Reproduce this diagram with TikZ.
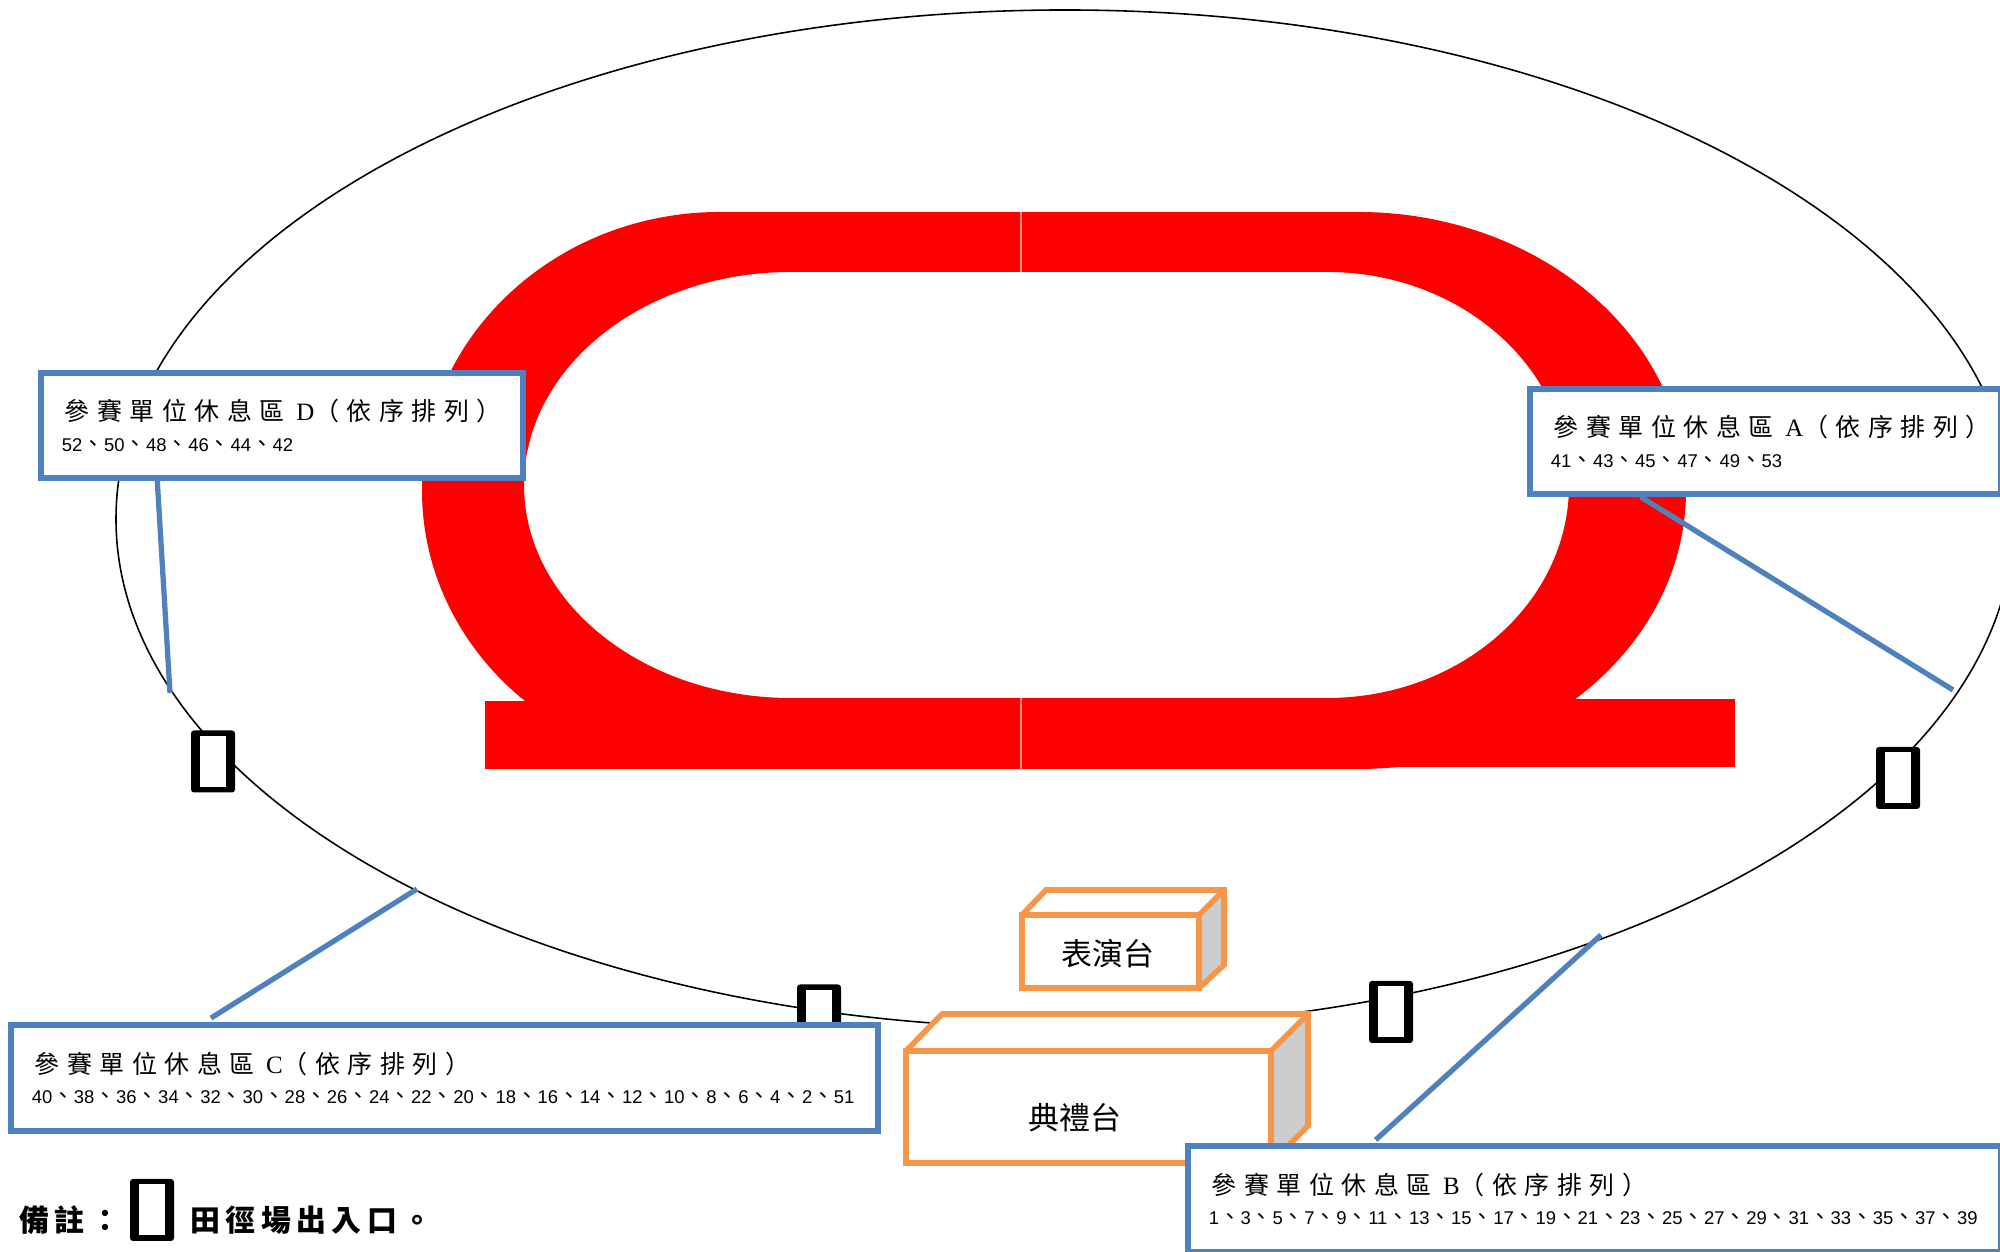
\documentclass[tikz,border=0pt]{standalone}
\usepackage{fontspec}
\setmainfont{Liberation Serif}
\newfontfamily\cjk{Noto Sans CJK TC}
\newfontfamily\numfont{Liberation Sans}
\usepackage{tikz}

\definecolor{boxblue}{HTML}{4F81BD}
\definecolor{stageorange}{HTML}{F79646}
\definecolor{sidegray}{HTML}{CCCCCC}

\newcommand{\dun}{{\cjk\fontsize{6.15pt}{8pt}\selectfont 、}}
\newcommand{\restTitle}[1]{\mbox{\fontsize{7.1pt}{8.8pt}\selectfont\cjk\addfontfeature{LetterSpace=30}參賽單位休息區 {\rmfamily #1}（依序排列）}}
\newcommand{\restNums}[1]{\mbox{\hspace*{-.03cm}\fontsize{5.25pt}{8.8pt}\selectfont\numfont #1}}

\tikzset{
    restbox/.style={draw=boxblue, line width=1.7pt, fill=white, inner xsep=.24cm, inner ysep=0pt,
        minimum height=1.05cm, align=left},
    pointer/.style={draw=boxblue, line width=1.5pt},
    stageline/.style={draw=stageorange, line width=1.6pt, line join=miter},
    stagelabel/.style={font=\cjk\fontsize{8.8pt}{10pt}\selectfont, inner sep=0pt},
    notelabel/.style={font=\cjk\bfseries\fontsize{8.5pt}{10pt}\selectfont\addfontfeature{LetterSpace=18}, inner sep=0pt, anchor=west}
}

\begin{document}
\begin{tikzpicture}[x=.01cm, y=.01cm]

    % Page, one unit is one pixel of the reference
    \clip (0,0) rectangle (2000,1252);
    \useasboundingbox (0,0) rectangle (2000,1252);

    % Field outline
    \draw[line width=.45pt] (1065,733) ellipse [x radius=949, y radius=509];

    % Red track
    \fill[red, even odd rule]
        (720,1040) arc [start angle=90, end angle=270, x radius=298, y radius=278.5]
        -- (1358,483) arc [start angle=-90, end angle=90, x radius=328, y radius=278.5] -- cycle
        (791,980) arc [start angle=90, end angle=270, x radius=267, y radius=213]
        -- (1327,554) arc [start angle=-90, end angle=90, x radius=242, y radius=213] -- cycle;
    \fill[red] (485,483) rectangle (1021,551);
    \fill[red] (1021,485) rectangle (1735,553);
    \foreach \ya/\yb in {980/1040, 483/554} {
        \draw[red!45, line width=.3pt] (1021,\ya) -- (1021,\yb);
    }

    % Gates
    \foreach \gx/\gy in {213/490.5, 1898/474, 1391/240, 819/236.5, 152/42} {
        \fill[black, rounded corners=.03cm] ({\gx-22},{\gy-31}) rectangle ({\gx+22},{\gy+31});
        \fill[white] ({\gx-13},{\gy-25.5}) rectangle ({\gx+13},{\gy+25.5});
    }

    % Small stage
    \fill[sidegray] (1199,337) -- (1224,362) -- (1224,287) -- (1199,264) -- cycle;
    \draw[stageline] (1022,264) rectangle (1199,337);
    \draw[stageline] (1022,337) -- (1046,362) -- (1224,362) -- (1224,287) -- (1199,264);
    \draw[stageline] (1199,337) -- (1224,362);
    \node[stagelabel] (showStage) at (1108,298) {表演台};

    % Big stage
    \fill[white] (906,201) -- (942,238) -- (1308,238) -- (1271,201) -- cycle;
    \fill[sidegray] (1271,201) -- (1308,238) -- (1308,126) -- (1271,89) -- cycle;
    \draw[stageline] (906,89) rectangle (1271,201);
    \draw[stageline] (906,201) -- (942,238) -- (1308,238) -- (1308,126) -- (1271,89);
    \draw[stageline] (1271,201) -- (1308,238);
    \node[stagelabel] (mainStage) at (1075,134) {典禮台};

    % Rest areas
    \node[restbox, text width=4.34cm] (boxD) at (282,826.5)
        {\restTitle{D}\\[-3.3pt]\restNums{52\dun50\dun48\dun46\dun44\dun42}};
    \node[restbox, text width=4.23cm] (boxA) at (1765.5,810.5)
        {\restTitle{A}\\[-3.3pt]\restNums{41\dun43\dun45\dun47\dun49\dun53}};
    \node[restbox, text width=8.19cm] (boxC) at (444.5,174)
        {\restTitle{C}\\[-3.3pt]\restNums{40\dun38\dun36\dun34\dun32\dun30\dun28\dun26\dun24\dun22\dun20\dun18\dun16\dun14\dun12\dun10\dun8\dun6\dun4\dun2\dun51}};
    \node[restbox, text width=7.65cm] (boxB) at (1594.5,53)
        {\restTitle{B}\\[-3.3pt]\restNums{1\dun3\dun5\dun7\dun9\dun11\dun13\dun15\dun17\dun19\dun21\dun23\dun25\dun27\dun29\dun31\dun33\dun35\dun37\dun39}};

    % Pointers to the field
    \coordinate (tickD) at (170,559);
    \coordinate (tickA) at (1953,562);
    \coordinate (tickC) at (417,363);
    \coordinate (tickB) at (1601,317);
    \draw[pointer] (boxD.204.2) -- (tickD);
    \draw[pointer] (boxA.204.4) -- (tickA);
    \draw[pointer, shorten <=.083cm] (boxC.167.83) -- (tickC);
    \draw[pointer, shorten <=.053cm] (boxB.166.4) -- (tickB);

    % Note
    \node[notelabel] (noteHead) at (19,32) {備註：};
    \node[notelabel] (noteText) at (190,32) {田徑場出入口。};

\end{tikzpicture}
\end{document}
